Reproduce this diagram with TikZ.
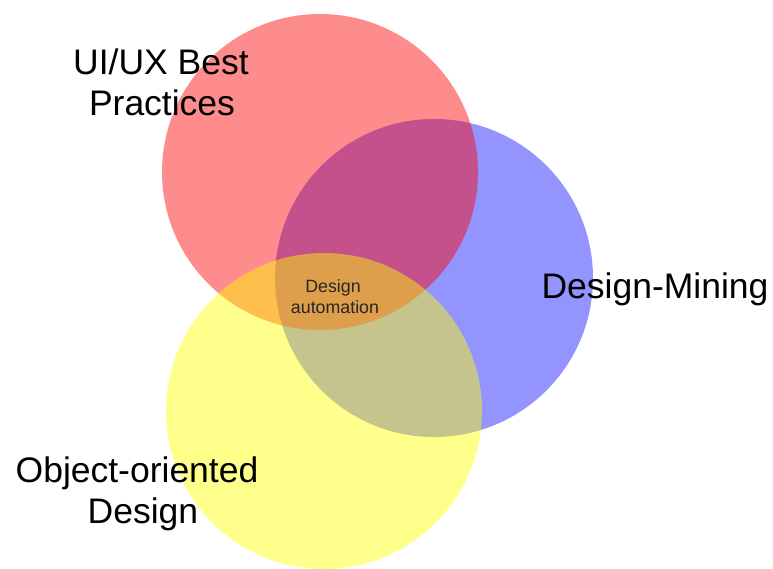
\documentclass[tikz,border=0pt]{standalone}
\usepackage{fontspec}
\setmainfont{Liberation Sans}
\tikzset{
  venn/.style={fill opacity=0.45, draw=none},
  biglabel/.style={font=\fontsize{35.5}{41}\selectfont, align=center, inner sep=0pt, text=black},
  smalllabel/.style={font=\fontsize{17.8}{21}\selectfont, align=center, inner sep=0pt, text=black!85}
}
\begin{document}
\begin{tikzpicture}[x=1pt,y=-1pt]
\useasboundingbox (0,0) rectangle (773,569);
\fill[white] (0,0) rectangle (773,569);
\fill[venn, fill={rgb,255:red,0;green,0;blue,255}, fill opacity=0.42] (434,278) circle[radius=159];
\fill[venn, fill={rgb,255:red,255;green,0;blue,0}] (320,172) circle[radius=158];
\fill[venn, fill={rgb,255:red,255;green,255;blue,0}, fill opacity=0.45] (324,411) circle[radius=158];
\node[biglabel, anchor=base] (ui) at (161,75) {UI/UX Best};
\node[biglabel, anchor=base] (pr) at (162,116) {Practices};
\node[biglabel, anchor=base] (dm) at (655,298) {Design-Mining};
\node[biglabel, anchor=base] (oo) at (137,482) {Object-oriented};
\node[biglabel, anchor=base] (od) at (143,523) {Design};
\node[smalllabel, anchor=base] (da1) at (333,292) {Design};
\node[smalllabel, anchor=base] (da2) at (335,313) {automation};
\end{tikzpicture}
\end{document}
